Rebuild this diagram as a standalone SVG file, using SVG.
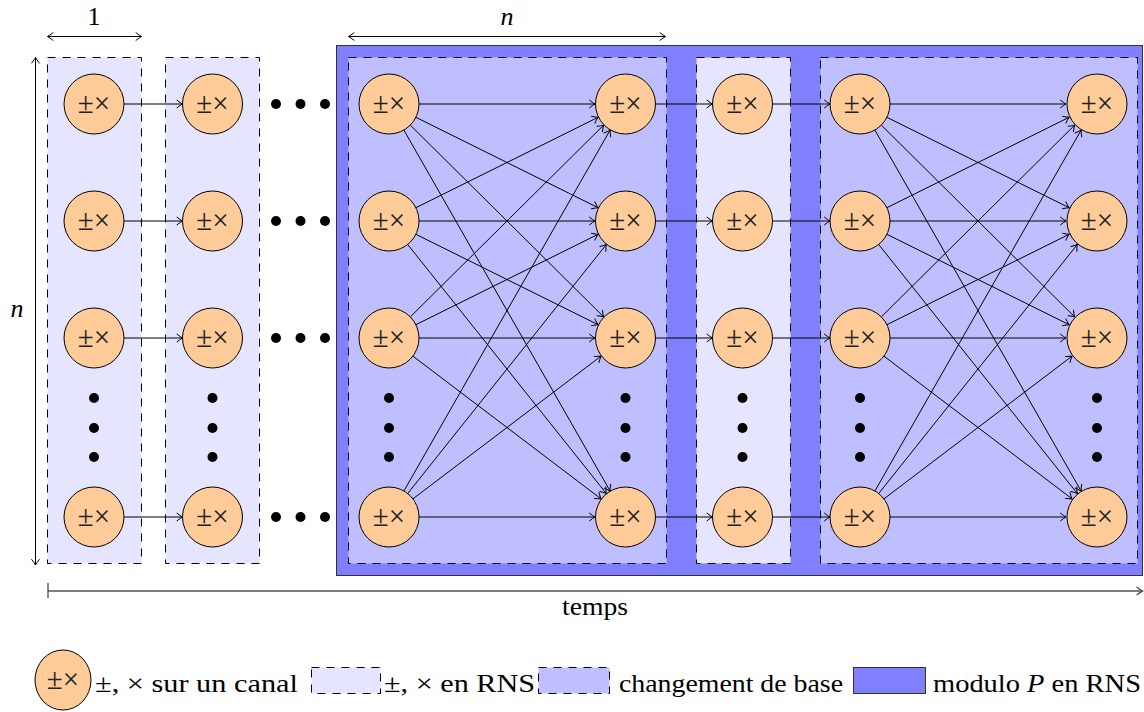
<svg xmlns="http://www.w3.org/2000/svg" width="1144" height="712" viewBox="0 0 1144 712">
<style>
.chan{fill:#e5e5ff;stroke:#000;stroke-width:1;stroke-dasharray:8 7}
.cb{fill:#bfbfff;stroke:#000;stroke-width:1;stroke-dasharray:8 7}
.mod{fill:#8080ff;stroke:#333;stroke-width:1}
.node{fill:#ffcc99;stroke:#000;stroke-width:1}
.op{font-family:"Liberation Serif","Times New Roman",serif;font-size:29px;fill:#222;text-anchor:middle}
.lbl{font-family:"Liberation Serif","Times New Roman",serif;font-size:26px;fill:#000}
.e line{stroke:#000;stroke-width:1;marker-end:url(#ah)}
.dim{stroke:#000;stroke-width:1;fill:none;marker-start:url(#ahs);marker-end:url(#ah)}
.dot{fill:#000}
</style>
<defs>
<marker id="ah" markerUnits="userSpaceOnUse" viewBox="-7 -5 8 10" markerWidth="8" markerHeight="10" refX="0" refY="0" orient="auto">
<path d="M-5.5,-3.8 Q-2,-1 0,0 Q-2,1 -5.5,3.8" fill="none" stroke="#000" stroke-width="1" stroke-linecap="round"/>
</marker>
<marker id="ahs" markerUnits="userSpaceOnUse" viewBox="-7 -5 8 10" markerWidth="8" markerHeight="10" refX="0" refY="0" orient="auto-start-reverse">
<path d="M-5.5,-3.8 Q-2,-1 0,0 Q-2,1 -5.5,3.8" fill="none" stroke="#000" stroke-width="1" stroke-linecap="round"/>
</marker>
<marker id="ahg" markerUnits="userSpaceOnUse" viewBox="-7 -5 8 10" markerWidth="8" markerHeight="10" refX="0" refY="0" orient="auto">
<path d="M-5.5,-3.8 Q-2,-1 0,0 Q-2,1 -5.5,3.8" fill="none" stroke="#555" stroke-width="1.4" stroke-linecap="round"/>
</marker>
</defs>

<g id="regions">
<rect id="modP" class="mod" x="336.5" y="45.5" width="806" height="530"/>
<rect id="chan1" class="chan" x="47.5" y="57.5" width="94" height="506"/>
<rect id="chan2" class="chan" x="165.5" y="57.5" width="94" height="506"/>
<rect id="cb1" class="cb" x="348.5" y="57.5" width="318" height="506"/>
<rect id="chan3" class="chan" x="696.5" y="57.5" width="94" height="506"/>
<rect id="cb2" class="cb" x="820.5" y="57.5" width="317" height="506"/>
</g>

<g id="connectors" class="e">
<line x1="124" y1="104" x2="182.5" y2="104"/>
<line x1="124" y1="221" x2="182.5" y2="221"/>
<line x1="124" y1="338" x2="182.5" y2="338"/>
<line x1="124" y1="517" x2="182.5" y2="517"/>
<g id="mesh">
<line x1="419" y1="104" x2="595" y2="104"/>
<line x1="415.9" y1="117.3" x2="598.1" y2="207.7"/>
<line x1="410.3" y1="125.1" x2="603.7" y2="316.9"/>
<line x1="403.9" y1="130.1" x2="610.1" y2="491"/>
<line x1="415.9" y1="207.7" x2="598.1" y2="117.3"/>
<line x1="419" y1="221" x2="595" y2="221"/>
<line x1="415.9" y1="234.3" x2="598.1" y2="324.7"/>
<line x1="407.7" y1="244.5" x2="606.3" y2="493.5"/>
<line x1="410.3" y1="316.9" x2="603.7" y2="125.1"/>
<line x1="415.9" y1="324.7" x2="598.1" y2="234.3"/>
<line x1="419" y1="338" x2="595" y2="338"/>
<line x1="412.9" y1="356.1" x2="601.1" y2="498.9"/>
<line x1="403.9" y1="491" x2="610.1" y2="130.1"/>
<line x1="407.7" y1="493.5" x2="606.3" y2="244.5"/>
<line x1="412.9" y1="498.9" x2="601.1" y2="356.1"/>
<line x1="419" y1="517" x2="595" y2="517"/>
</g>
<use href="#mesh" transform="translate(471,0)"/>
<line x1="655.5" y1="104" x2="712.5" y2="104"/>
<line x1="655.5" y1="221" x2="712.5" y2="221"/>
<line x1="655.5" y1="338" x2="712.5" y2="338"/>
<line x1="655.5" y1="517" x2="712.5" y2="517"/>
<line x1="772.5" y1="104" x2="830" y2="104"/>
<line x1="772.5" y1="221" x2="830" y2="221"/>
<line x1="772.5" y1="338" x2="830" y2="338"/>
<line x1="772.5" y1="517" x2="830" y2="517"/>
</g>

<g id="nodes">
<g id="c1"><circle class="node" cx="94" cy="104" r="30"/><text class="op" x="94" y="113">±×</text>
<circle class="node" cx="94" cy="221" r="30"/><text class="op" x="94" y="230">±×</text>
<circle class="node" cx="94" cy="338" r="30"/><text class="op" x="94" y="347">±×</text>
<circle class="node" cx="94" cy="517" r="30"/><text class="op" x="94" y="526">±×</text></g>
<g id="c2"><circle class="node" cx="212.5" cy="104" r="30"/><text class="op" x="212.5" y="113">±×</text>
<circle class="node" cx="212.5" cy="221" r="30"/><text class="op" x="212.5" y="230">±×</text>
<circle class="node" cx="212.5" cy="338" r="30"/><text class="op" x="212.5" y="347">±×</text>
<circle class="node" cx="212.5" cy="517" r="30"/><text class="op" x="212.5" y="526">±×</text></g>
<g id="c3"><circle class="node" cx="389" cy="104" r="30"/><text class="op" x="389" y="113">±×</text>
<circle class="node" cx="389" cy="221" r="30"/><text class="op" x="389" y="230">±×</text>
<circle class="node" cx="389" cy="338" r="30"/><text class="op" x="389" y="347">±×</text>
<circle class="node" cx="389" cy="517" r="30"/><text class="op" x="389" y="526">±×</text></g>
<g id="c4"><circle class="node" cx="625.5" cy="104" r="30"/><text class="op" x="625.5" y="113">±×</text>
<circle class="node" cx="625.5" cy="221" r="30"/><text class="op" x="625.5" y="230">±×</text>
<circle class="node" cx="625.5" cy="338" r="30"/><text class="op" x="625.5" y="347">±×</text>
<circle class="node" cx="625.5" cy="517" r="30"/><text class="op" x="625.5" y="526">±×</text></g>
<g id="c5"><circle class="node" cx="742.5" cy="104" r="30"/><text class="op" x="742.5" y="113">±×</text>
<circle class="node" cx="742.5" cy="221" r="30"/><text class="op" x="742.5" y="230">±×</text>
<circle class="node" cx="742.5" cy="338" r="30"/><text class="op" x="742.5" y="347">±×</text>
<circle class="node" cx="742.5" cy="517" r="30"/><text class="op" x="742.5" y="526">±×</text></g>
<g id="c6"><circle class="node" cx="860" cy="104" r="30"/><text class="op" x="860" y="113">±×</text>
<circle class="node" cx="860" cy="221" r="30"/><text class="op" x="860" y="230">±×</text>
<circle class="node" cx="860" cy="338" r="30"/><text class="op" x="860" y="347">±×</text>
<circle class="node" cx="860" cy="517" r="30"/><text class="op" x="860" y="526">±×</text></g>
<g id="c7"><circle class="node" cx="1097" cy="104" r="30"/><text class="op" x="1097" y="113">±×</text>
<circle class="node" cx="1097" cy="221" r="30"/><text class="op" x="1097" y="230">±×</text>
<circle class="node" cx="1097" cy="338" r="30"/><text class="op" x="1097" y="347">±×</text>
<circle class="node" cx="1097" cy="517" r="30"/><text class="op" x="1097" y="526">±×</text></g>
</g>

<g id="dots" class="dot">
<circle cx="276" cy="104" r="5"/><circle cx="300.5" cy="104" r="5"/><circle cx="325" cy="104" r="5"/>
<circle cx="276" cy="221" r="5"/><circle cx="300.5" cy="221" r="5"/><circle cx="325" cy="221" r="5"/>
<circle cx="276" cy="338" r="5"/><circle cx="300.5" cy="338" r="5"/><circle cx="325" cy="338" r="5"/>
<circle cx="276" cy="517" r="5"/><circle cx="300.5" cy="517" r="5"/><circle cx="325" cy="517" r="5"/>
<circle cx="94" cy="398" r="5"/><circle cx="94" cy="428" r="5"/><circle cx="94" cy="457" r="5"/>
<circle cx="212.5" cy="398" r="5"/><circle cx="212.5" cy="428" r="5"/><circle cx="212.5" cy="457" r="5"/>
<circle cx="389" cy="398" r="5"/><circle cx="389" cy="428" r="5"/><circle cx="389" cy="457" r="5"/>
<circle cx="625.5" cy="398" r="5"/><circle cx="625.5" cy="428" r="5"/><circle cx="625.5" cy="457" r="5"/>
<circle cx="742.5" cy="398" r="5"/><circle cx="742.5" cy="428" r="5"/><circle cx="742.5" cy="457" r="5"/>
<circle cx="860" cy="398" r="5"/><circle cx="860" cy="428" r="5"/><circle cx="860" cy="457" r="5"/>
<circle cx="1097" cy="398" r="5"/><circle cx="1097" cy="428" r="5"/><circle cx="1097" cy="457" r="5"/>
</g>

<g id="dimensions">
<line class="dim" x1="47.5" y1="36.5" x2="141.5" y2="36.5"/>
<text class="lbl" x="94" y="25" text-anchor="middle">1</text>
<line class="dim" x1="348.5" y1="36.5" x2="665.5" y2="36.5"/>
<text class="lbl" x="507" y="25" text-anchor="middle" font-style="italic">n</text>
<line class="dim" x1="35.5" y1="57.5" x2="35.5" y2="565"/>
<text class="lbl" x="17" y="317" text-anchor="middle" font-style="italic">n</text>
<g id="timeline">
<line x1="48" y1="583" x2="48" y2="598" stroke="#555" stroke-width="1.4"/>
<line x1="48" y1="591" x2="1142.5" y2="591" stroke="#555" stroke-width="1.4" marker-end="url(#ahg)"/>
<text class="lbl" x="595" y="615" text-anchor="middle" textLength="66" lengthAdjust="spacingAndGlyphs">temps</text>
</g>
</g>

<g id="legend">
<g id="leg1"><ellipse class="node" cx="63" cy="680" rx="28" ry="30"/><text class="op" x="63" y="689">±×</text>
<text class="lbl" x="95" y="692" textLength="203" lengthAdjust="spacingAndGlyphs">±, × sur un canal</text></g>
<g id="leg2"><rect class="chan" x="311.5" y="667.5" width="69" height="26"/>
<text class="lbl" x="384" y="692" textLength="151" lengthAdjust="spacingAndGlyphs">±, × en RNS</text></g>
<g id="leg3"><rect class="cb" x="538.5" y="667.5" width="71" height="26"/>
<text class="lbl" x="619" y="692" textLength="224" lengthAdjust="spacingAndGlyphs">changement de base</text></g>
<g id="leg4"><rect class="mod" x="853.5" y="667.5" width="72" height="26"/>
<text class="lbl" x="933" y="692" textLength="208" lengthAdjust="spacingAndGlyphs">modulo <tspan font-style="italic">P</tspan> en RNS</text></g>
</g>
</svg>
